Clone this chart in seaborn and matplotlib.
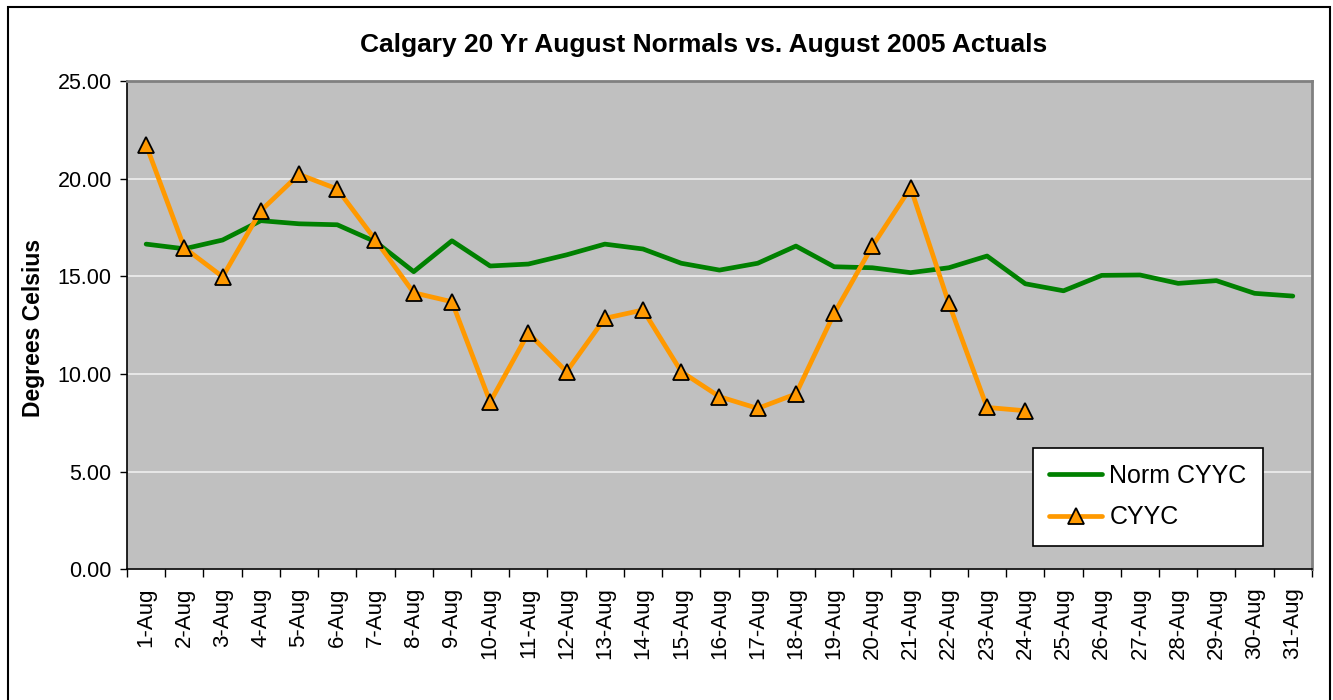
import numpy as np
import pandas as pd
import matplotlib
matplotlib.use("Agg")
import matplotlib.pyplot as plt
import seaborn as sns
from matplotlib.patches import Rectangle

# tick labels
days = ["1-Aug", "2-Aug", "3-Aug", "4-Aug", "5-Aug", "6-Aug", "7-Aug", "8-Aug",
        "9-Aug", "10-Aug", "11-Aug", "12-Aug", "13-Aug", "14-Aug", "15-Aug",
        "16-Aug", "17-Aug", "18-Aug", "19-Aug", "20-Aug", "21-Aug", "22-Aug",
        "23-Aug", "24-Aug", "25-Aug", "26-Aug", "27-Aug", "28-Aug", "29-Aug",
        "30-Aug", "31-Aug"]

# 20 yr normals (daily)
norm_cyyc = [16.65, 16.41, 16.86, 17.85, 17.69, 17.64, 16.77, 15.24, 16.82, 15.53,
             15.63, 16.10, 16.65, 16.40, 15.67, 15.32, 15.67, 16.55, 15.49, 15.44,
             15.19, 15.44, 16.04, 14.62, 14.26, 15.05, 15.07, 14.64, 14.78, 14.13,
             13.99]

# August 2005 actuals (up to 24-Aug)
cyyc = [21.72, 16.46, 14.98, 18.36, 20.22, 19.47, 16.86, 14.16, 13.70, 8.57,
        12.10, 10.12, 12.85, 13.28, 10.12, 8.84, 8.24, 8.98, 13.10, 16.55,
        19.54, 13.62, 8.29, 8.12]

sns.set_theme(style="white")
plt.rcParams['font.family'] = ['Liberation Sans', 'DejaVu Sans']
plt.rcParams['text.color'] = 'black'
plt.rcParams['axes.labelcolor'] = 'black'
plt.rcParams['xtick.color'] = 'black'
plt.rcParams['ytick.color'] = 'black'

fig = plt.figure(figsize=(13.33, 7), dpi=100)
ax = fig.add_axes([0.0953, 0.1866, 0.8889, 0.6977])
ax.set_facecolor('#C0C0C0')

df_norm = pd.DataFrame({"day": range(len(norm_cyyc)), "temp": norm_cyyc})
df_act = pd.DataFrame({"day": range(len(cyyc)), "temp": cyyc})

sns.lineplot(data=df_norm, x="day", y="temp", ax=ax, color="#008000", lw=3.4,
             label="Norm CYYC", sort=False, zorder=3)
sns.lineplot(data=df_act, x="day", y="temp", ax=ax, color="#FF9900", lw=3.4,
             marker="^", markersize=11, markerfacecolor="#FF9900",
             markeredgecolor="black", markeredgewidth=1.3,
             label="CYYC", sort=False, zorder=4)

# axes / grid
ax.set_xlim(-0.5, 30.5)
ax.set_ylim(0, 25)
ax.set_yticks([0, 5, 10, 15, 20, 25])
ax.set_yticklabels([f"{v:.2f}" for v in [0, 5, 10, 15, 20, 25]], fontsize=15.5)
ax.yaxis.grid(True, color='#EEEEEE', lw=1.2)
ax.xaxis.grid(False)
ax.set_axisbelow(True)
ax.tick_params(axis='y', left=True, length=5, width=1, color='black', pad=6)

ax.set_xticks(range(len(days)))
ax.set_xticklabels(days, rotation=90, fontsize=16, va='top')
ax.set_xticks(np.arange(-0.5, len(days), 1), minor=True)
ax.tick_params(axis='x', which='major', length=0, pad=13)
ax.tick_params(axis='x', which='minor', bottom=True, length=6, width=1, color='black')

for s in ['left', 'bottom']:
    ax.spines[s].set_color('black')
    ax.spines[s].set_linewidth(1.2)
for s in ['top', 'right']:
    ax.spines[s].set_color('#808080')
    ax.spines[s].set_linewidth(2)

ax.set_xlabel('')
ax.set_ylabel('')

fig.text(0.528, 0.936, "Calgary 20 Yr August Normals vs. August 2005 Actuals",
         ha='center', va='center', fontsize=19, fontweight='bold')
fig.text(0.0255, 0.531, "Degrees Celsius", ha='center', va='center',
         rotation=90, fontsize=16.5, fontweight='bold')

leg = ax.legend(loc='center', bbox_to_anchor=(0.8616, 0.149), frameon=True,
                fancybox=False, edgecolor='black', facecolor='white', framealpha=1,
                fontsize=18, handlelength=2.1, handletextpad=0.3,
                borderpad=0.65, labelspacing=0.7)
leg.get_frame().set_linewidth(1.2)

# outer chart border
fig.add_artist(Rectangle((8 / 1333, -0.05), (1330 - 8) / 1333, 1.04,
                         transform=fig.transFigure, fill=False,
                         edgecolor='black', lw=1.5))

fig.savefig('out.png', dpi=100)
